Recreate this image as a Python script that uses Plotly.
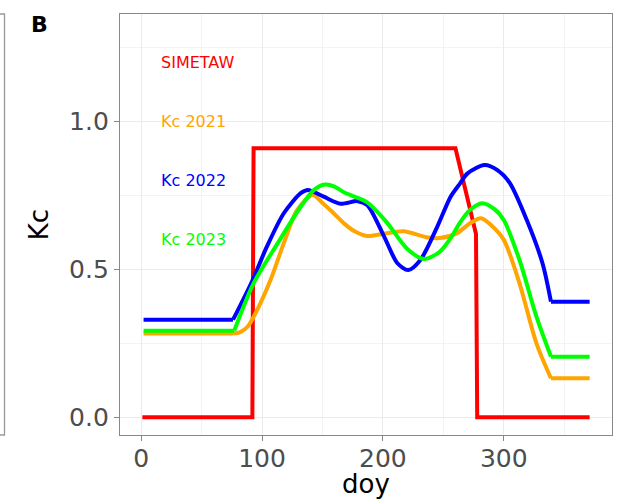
import plotly.graph_objects as go

# SIMETAW reference Kc
doy_sim = [1, 92, 93, 260, 277, 278, 371]
kc_sim = [0, 0, 0.91, 0.91, 0.62, 0, 0]

# Kc 2021 (orange)
doy_2021 = [2, 76, 82, 88, 96, 107, 118, 129, 142, 150, 158, 168, 177, 187, 200, 217, 236, 247, 261, 272, 281, 290, 300, 313, 327, 339, 371]
kc_2021 = [0.283, 0.283, 0.288, 0.306, 0.363, 0.464, 0.589, 0.701, 0.752, 0.725, 0.695, 0.655, 0.628, 0.613, 0.62, 0.629, 0.609, 0.606, 0.622, 0.656, 0.673, 0.648, 0.6, 0.453, 0.25, 0.132, 0.132]

# Kc 2022 (blue)
doy_2022 = [2, 76, 91, 104, 118, 132, 138, 151, 165, 179, 187, 201, 212, 221, 231, 245, 256, 264, 270, 284, 295, 305, 319, 332, 339, 371]
kc_2022 = [0.33, 0.33, 0.453, 0.577, 0.69, 0.758, 0.769, 0.746, 0.722, 0.731, 0.718, 0.611, 0.521, 0.498, 0.532, 0.645, 0.746, 0.792, 0.825, 0.853, 0.835, 0.792, 0.667, 0.521, 0.391, 0.391]

# Kc 2023 (green)
doy_2023 = [2, 77, 93, 113, 132, 143, 152, 160, 168, 187, 203, 220, 234, 247, 256, 264, 272, 282, 292, 300, 313, 327, 339, 371]
kc_2023 = [0.293, 0.293, 0.453, 0.589, 0.712, 0.769, 0.787, 0.78, 0.76, 0.727, 0.66, 0.57, 0.535, 0.56, 0.606, 0.66, 0.701, 0.724, 0.705, 0.667, 0.532, 0.34, 0.205, 0.205]

labels = ["SIMETAW", "Kc 2021", "Kc 2022", "Kc 2023"]
label_y = [1.2, 1.0, 0.8, 0.6]
colors = ["#ff0000", "#ffa500", "#0000ff", "#00ff00"]

x_ticks = [0, 100, 200, 300]
y_ticks = [0, 0.5, 1.0]
y_ticklabels = ["0.0", "0.5", "1.0"]

fig = go.Figure()
fig.add_trace(go.Scatter(x=doy_sim, y=kc_sim, mode="lines",
                         line=dict(color=colors[0], width=4), showlegend=False))
for xs, ys, c in [(doy_2021, kc_2021, colors[1]), (doy_2022, kc_2022, colors[2]), (doy_2023, kc_2023, colors[3])]:
    # flat start, smooth middle, flat end
    fig.add_trace(go.Scatter(x=xs[:2], y=ys[:2], mode="lines",
                             line=dict(color=c, width=4), showlegend=False))
    fig.add_trace(go.Scatter(x=xs[1:-1], y=ys[1:-1], mode="lines",
                             line=dict(color=c, width=4, shape="spline", smoothing=0.8),
                             showlegend=False))
    fig.add_trace(go.Scatter(x=xs[-2:], y=ys[-2:], mode="lines",
                             line=dict(color=c, width=4), showlegend=False))

for t, yv, c in zip(labels, label_y, colors):
    fig.add_annotation(x=15, y=yv, xref="x", yref="y", text=t, showarrow=False,
                       xanchor="left", yanchor="middle",
                       font=dict(family="DejaVu Sans", size=16, color=c))

fig.add_annotation(x=(29 - 120) / 492, y=(435 - 10) / 421, xref="paper", yref="paper",
                   text="<b>B</b>", showarrow=False, xanchor="left", yanchor="top",
                   font=dict(family="DejaVu Sans", size=22, color="black"))

# x-axis title
fig.add_annotation(x=0.5, y=(435 - 484) / 421, xref="paper", yref="paper",
                   text="doy", showarrow=False, xanchor="center", yanchor="middle",
                   font=dict(family="DejaVu Sans", size=26, color="black"))

# right edge of neighbouring panel A
fig.add_shape(type="rect", xref="paper", yref="paper",
              x0=(-30 - 120) / 492, x1=(4.5 - 120) / 492, y0=0, y1=1,
              line=dict(color="#999999", width=1.3), fillcolor="rgba(0,0,0,0)", layer="below")

fig.update_layout(
    width=631, height=500,
    margin=dict(l=120, r=19, t=14, b=65),
    plot_bgcolor="white", paper_bgcolor="white",
    font=dict(family="DejaVu Sans"),
)
fig.update_xaxes(
    range=[-17.5, 389.5], tickvals=x_ticks, ticks="outside", ticklen=5, tickcolor="#888888",
    tickfont=dict(size=25, color="#4d4d4d"), automargin=False, ticklabelstandoff=-4,
    showgrid=True, gridcolor="#ebebeb", gridwidth=1.2,
    minor=dict(dtick=50, tick0=0, showgrid=True, gridcolor="#f3f3f3", gridwidth=0.8),
    showline=True, mirror=True, linecolor="#888888", linewidth=1.3, zeroline=False,
)
fig.update_yaxes(
    range=[-0.06, 1.364], tickvals=y_ticks, ticktext=y_ticklabels, ticks="outside", ticklen=5,
    tickcolor="#888888", tickfont=dict(size=25, color="#4d4d4d"), automargin=False,
    showgrid=True, gridcolor="#ebebeb", gridwidth=1.2,
    minor=dict(dtick=0.25, tick0=0, showgrid=True, gridcolor="#f3f3f3", gridwidth=0.8),
    showline=True, mirror=True, linecolor="#888888", linewidth=1.3, zeroline=False,
    title=dict(text="Kc", font=dict(size=26, color="black"), standoff=12),
)

fig.write_html("out.html")
